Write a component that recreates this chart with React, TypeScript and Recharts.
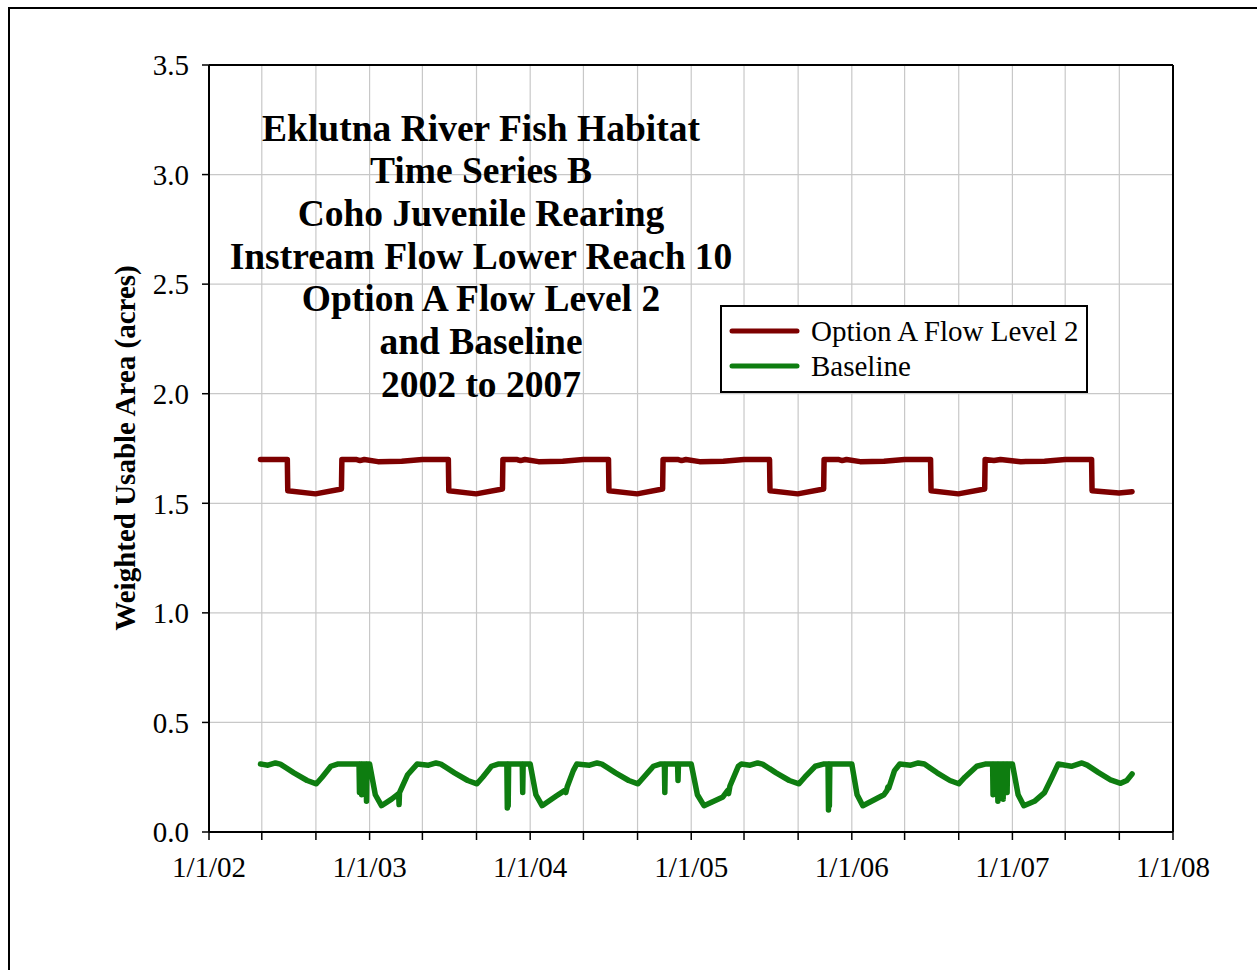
import React from 'react';
import { LineChart, Line, XAxis, YAxis, CartesianGrid, ReferenceLine } from 'recharts';

const FONT = '"Liberation Serif", "Times New Roman", serif';

const titleLines = [
  'Eklutna River Fish Habitat',
  'Time Series B',
  'Coho Juvenile Rearing',
  'Instream Flow Lower Reach 10',
  'Option A Flow Level 2',
  'and Baseline',
  '2002 to 2007',
];
const yAxisTitle = 'Weighted Usable Area (acres)';
const seriesNames = ['Option A Flow Level 2', 'Baseline'];
const seriesColors = ['#7d0000', '#0e7d10'];

const xTickDates = [
  '2002-01-01', '2002-05-01', '2002-09-01',
  '2003-01-01', '2003-05-01', '2003-09-01',
  '2004-01-01', '2004-05-01', '2004-09-01',
  '2005-01-01', '2005-05-01', '2005-09-01',
  '2006-01-01', '2006-05-01', '2006-09-01',
  '2007-01-01', '2007-05-01', '2007-09-01',
  '2008-01-01',
];
const yTicks = [0, 0.5, 1, 1.5, 2, 2.5, 3, 3.5];

// Option A Flow Level 2 (date, acres)
const optionA: [string, number][] = [
  ['2002-04-28', 1.70], ['2002-06-28', 1.70], ['2002-06-29', 1.557], ['2002-08-31', 1.543],
  ['2002-10-29', 1.565], ['2002-10-30', 1.70], ['2002-12-01', 1.70], ['2002-12-10', 1.695],
  ['2002-12-20', 1.70], ['2003-01-20', 1.69], ['2003-03-15', 1.692], ['2003-05-01', 1.70],
  ['2003-06-29', 1.70], ['2003-06-30', 1.557], ['2003-08-31', 1.543], ['2003-10-30', 1.565],
  ['2003-10-31', 1.70], ['2003-12-01', 1.70], ['2003-12-10', 1.695], ['2003-12-20', 1.70],
  ['2004-01-20', 1.69], ['2004-03-15', 1.692], ['2004-05-01', 1.70], ['2004-06-27', 1.70],
  ['2004-06-28', 1.557], ['2004-08-31', 1.543], ['2004-10-28', 1.565], ['2004-10-29', 1.70],
  ['2004-12-01', 1.70], ['2004-12-10', 1.695], ['2004-12-20', 1.70], ['2005-01-20', 1.69],
  ['2005-03-15', 1.692], ['2005-05-01', 1.70], ['2005-06-28', 1.70], ['2005-06-29', 1.557],
  ['2005-08-31', 1.543], ['2005-10-29', 1.565], ['2005-10-30', 1.70], ['2005-12-01', 1.70],
  ['2005-12-10', 1.695], ['2005-12-20', 1.70], ['2006-01-20', 1.69], ['2006-03-15', 1.692],
  ['2006-05-01', 1.70], ['2006-06-29', 1.70], ['2006-06-30', 1.557], ['2006-08-31', 1.543],
  ['2006-10-30', 1.565], ['2006-10-31', 1.70], ['2006-11-20', 1.695], ['2006-12-05', 1.70],
  ['2007-01-20', 1.69], ['2007-03-15', 1.692], ['2007-05-01', 1.70], ['2007-06-30', 1.70],
  ['2007-07-01', 1.557], ['2007-08-31', 1.547], ['2007-09-30', 1.553],
];

// Baseline (date, acres)
const baseline: [string, number][] = [
  ['2002-04-28', 0.31], ['2002-05-15', 0.305], ['2002-06-01', 0.315], ['2002-06-12', 0.31],
  ['2002-07-13', 0.27], ['2002-08-12', 0.235], ['2002-09-02', 0.22], ['2002-09-15', 0.25],
  ['2002-10-05', 0.30], ['2002-10-20', 0.31], ['2002-12-08', 0.31], ['2002-12-09', 0.18],
  ['2002-12-10', 0.31], ['2002-12-13', 0.31], ['2002-12-14', 0.17], ['2002-12-15', 0.31],
  ['2002-12-24', 0.31], ['2002-12-25', 0.14], ['2002-12-26', 0.31], ['2003-01-01', 0.31],
  ['2003-01-14', 0.17], ['2003-01-28', 0.12], ['2003-02-20', 0.15], ['2003-03-08', 0.175],
  ['2003-03-09', 0.125], ['2003-03-10', 0.18], ['2003-03-28', 0.26], ['2003-04-19', 0.31],

  ['2003-05-15', 0.305], ['2003-06-01', 0.315], ['2003-06-12', 0.31], ['2003-07-13', 0.27],
  ['2003-08-12', 0.235], ['2003-09-02', 0.22], ['2003-09-15', 0.25], ['2003-10-05', 0.30],
  ['2003-10-20', 0.31], ['2003-11-09', 0.31], ['2003-11-10', 0.11], ['2003-11-11', 0.31],
  ['2003-11-12', 0.12], ['2003-11-13', 0.31], ['2003-12-14', 0.31], ['2003-12-15', 0.18],
  ['2003-12-16', 0.31], ['2004-01-01', 0.31], ['2004-01-14', 0.17], ['2004-01-28', 0.12],
  ['2004-03-01', 0.165], ['2004-03-20', 0.19], ['2004-03-22', 0.18], ['2004-03-25', 0.205],
  ['2004-04-08', 0.28], ['2004-04-16', 0.31],

  ['2004-05-15', 0.305], ['2004-06-01', 0.315], ['2004-06-12', 0.31], ['2004-07-13', 0.27],
  ['2004-08-12', 0.235], ['2004-09-02', 0.22], ['2004-09-15', 0.25], ['2004-10-07', 0.30],
  ['2004-10-22', 0.31], ['2004-11-01', 0.31], ['2004-11-02', 0.18], ['2004-11-03', 0.31],
  ['2004-12-01', 0.31], ['2004-12-02', 0.235], ['2004-12-03', 0.31], ['2005-01-01', 0.31],
  ['2005-01-15', 0.17], ['2005-01-30', 0.12], ['2005-03-14', 0.16], ['2005-03-25', 0.19],
  ['2005-03-27', 0.175], ['2005-03-30', 0.21], ['2005-04-18', 0.30], ['2005-04-25', 0.31],

  ['2005-05-15', 0.305], ['2005-06-01', 0.315], ['2005-06-12', 0.31], ['2005-07-13', 0.27],
  ['2005-08-12', 0.235], ['2005-09-03', 0.22], ['2005-09-16', 0.25], ['2005-10-10', 0.30],
  ['2005-10-28', 0.31], ['2005-11-08', 0.31], ['2005-11-09', 0.10], ['2005-11-10', 0.31],
  ['2005-11-11', 0.12], ['2005-11-12', 0.31], ['2006-01-01', 0.31], ['2006-01-13', 0.17],
  ['2006-01-26', 0.12], ['2006-03-15', 0.17], ['2006-03-22', 0.19], ['2006-03-24', 0.205],
  ['2006-03-26', 0.20], ['2006-04-08', 0.28], ['2006-04-20', 0.31],

  ['2006-05-15', 0.305], ['2006-06-01', 0.315], ['2006-06-15', 0.31], ['2006-07-14', 0.27],
  ['2006-08-12', 0.235], ['2006-09-01', 0.22], ['2006-09-15', 0.25], ['2006-10-12', 0.30],
  ['2006-10-31', 0.31], ['2006-11-17', 0.31], ['2006-11-18', 0.17], ['2006-11-19', 0.31],
  ['2006-11-28', 0.31], ['2006-11-29', 0.14], ['2006-11-30', 0.31], ['2006-12-10', 0.31],
  ['2006-12-11', 0.15], ['2006-12-12', 0.31], ['2006-12-19', 0.31], ['2006-12-20', 0.18],
  ['2006-12-21', 0.31], ['2007-01-01', 0.31], ['2007-01-14', 0.17], ['2007-01-27', 0.12],
  ['2007-02-20', 0.14], ['2007-03-15', 0.18], ['2007-04-01', 0.25], ['2007-04-15', 0.31],

  ['2007-05-15', 0.30], ['2007-06-08', 0.315], ['2007-06-20', 0.305], ['2007-07-15', 0.272],
  ['2007-08-12', 0.238], ['2007-09-04', 0.222], ['2007-09-18', 0.235], ['2007-09-30', 0.265],
];

const toTime = (d: string) => Date.parse(d + 'T00:00:00Z');
const toRows = (pts: [string, number][]) => pts.map(([d, v]) => ({ t: toTime(d), v }));

const xTicks = xTickDates.map(toTime);
const xMin = xTicks[0];
const xMax = xTicks[xTicks.length - 1];

const fmtDate = (t: number) => {
  const d = new Date(t);
  if (d.getUTCMonth() !== 0) return '';
  return `1/1/${String(d.getUTCFullYear()).slice(2)}`;
};

const W = 1247;
const H = 961;

const App: React.FC = () => {
  const tickStyle = { fill: '#000', fontSize: 29, fontFamily: FONT };
  return (
    <div
      style={{
        position: 'fixed',
        left: 8,
        top: 7,
        width: 1249,
        height: 963,
        borderLeft: '2px solid #000',
        borderTop: '2px solid #000',
        background: '#fff',
        boxSizing: 'border-box',
      }}
    >
      <div style={{ position: 'absolute', left: 0, top: 0 }}>
        <LineChart width={W} height={H} margin={{ top: 56, right: 84, left: 0, bottom: 98 }}>
          <CartesianGrid stroke="#c8c8c8" strokeWidth={1.2} />
          <XAxis
            type="number"
            dataKey="t"
            domain={[xMin, xMax]}
            ticks={xTicks}
            tickFormatter={fmtDate}
            allowDataOverflow
            height={40}
            stroke="#000"
            axisLine={{ stroke: '#000', strokeWidth: 2 }}
            tickLine={{ stroke: '#000', strokeWidth: 1.5 }}
            tickSize={8}
            tickMargin={16}
            tick={tickStyle}
            interval={0}
          />
          <YAxis
            type="number"
            domain={[0, 3.5]}
            ticks={yTicks}
            tickFormatter={(v: number) => v.toFixed(1)}
            width={199}
            axisLine={{ stroke: '#000', strokeWidth: 2 }}
            tickLine={{ stroke: '#000', strokeWidth: 1.5 }}
            tickSize={7}
            tickMargin={13}
            tick={tickStyle}
            interval={0}
          />
          <ReferenceLine y={3.5} stroke="#000" strokeWidth={2} />
          <ReferenceLine x={xMax} stroke="#000" strokeWidth={2} />
          <Line
            data={toRows(optionA)}
            dataKey="v"
            name={seriesNames[0]}
            stroke={seriesColors[0]}
            strokeWidth={5.5}
            strokeLinejoin="round"
            strokeLinecap="round"
            dot={false}
            isAnimationActive={false}
          />
          <Line
            data={toRows(baseline)}
            dataKey="v"
            name={seriesNames[1]}
            stroke={seriesColors[1]}
            strokeWidth={5.5}
            strokeLinejoin="round"
            strokeLinecap="round"
            dot={false}
            isAnimationActive={false}
          />
        </LineChart>
      </div>

      <svg
        width={W}
        height={H}
        style={{ position: 'absolute', left: 0, top: 0, pointerEvents: 'none' }}
      >
        {titleLines.map((line, i) => (
          <text
            key={line}
            x={471}
            y={119 + i * 42.7}
            textAnchor="middle"
            dominantBaseline="central"
            fontFamily={FONT}
            fontWeight="bold"
            fontSize={37.5}
            fill="#000"
          >
            {line}
          </text>
        ))}
        <text
          x={115}
          y={439}
          transform="rotate(-90 115 439)"
          textAnchor="middle"
          dominantBaseline="central"
          fontFamily={FONT}
          fontWeight="bold"
          fontSize={29}
          fill="#000"
        >
          {yAxisTitle}
        </text>
      </svg>

      <div
        style={{
          position: 'absolute',
          left: 710,
          top: 296,
          width: 368,
          height: 88,
          border: '2px solid #000',
          background: '#fff',
          boxSizing: 'border-box',
        }}
      >
        <svg width={364} height={84}>
          {seriesNames.map((name, i) => (
            <g key={name}>
              <line
                x1={10}
                x2={75}
                y1={24 + i * 35}
                y2={24 + i * 35}
                stroke={seriesColors[i]}
                strokeWidth={5}
                strokeLinecap="round"
              />
              <text
                x={89}
                y={24 + i * 35}
                dominantBaseline="central"
                fontFamily={FONT}
                fontSize={29}
                fill="#000"
              >
                {name}
              </text>
            </g>
          ))}
        </svg>
      </div>
    </div>
  );
};

export default App;
